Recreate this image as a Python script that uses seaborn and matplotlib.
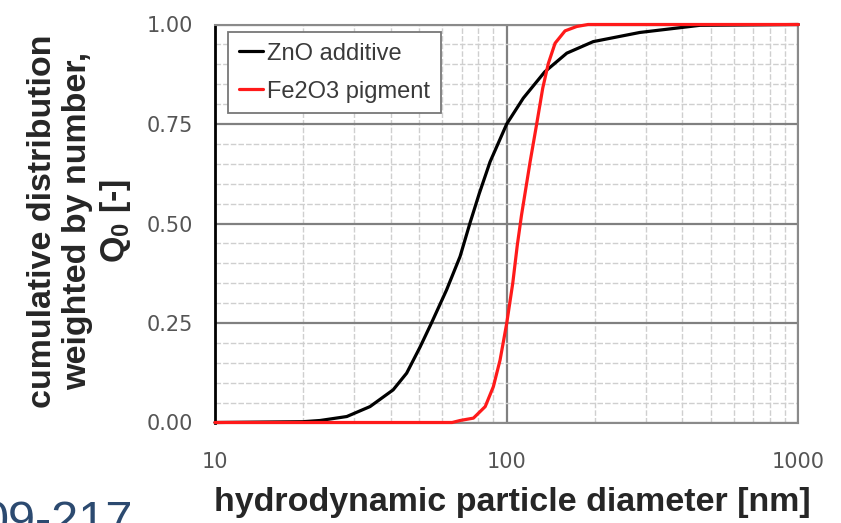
import numpy as np
import pandas as pd
import matplotlib
matplotlib.use("Agg")
import matplotlib.pyplot as plt
import seaborn as sns
from matplotlib.ticker import FixedLocator, NullFormatter, FixedFormatter

# ---- data ----
zno_d = [10, 20, 22.9, 28.3, 34.0, 40.8, 45.4, 50.5, 55.3, 62.2, 69.2, 74.9, 80.5,
         87.7, 100, 114, 135, 160.7, 198, 286, 393, 460, 1000]
zno_q = [0.0, 0.002, 0.005, 0.015, 0.040, 0.082, 0.124, 0.190, 0.251, 0.333, 0.417,
         0.502, 0.575, 0.655, 0.750, 0.815, 0.881, 0.928, 0.957, 0.980, 0.992, 0.998, 1.0]
fe_d = [10, 65, 69.2, 76.9, 84.4, 90.0, 94.9, 100, 104.9, 108.7, 112.4, 120.3, 126.7,
        132.9, 138.9, 146.5, 158.5, 173.8, 190, 1000]
fe_q = [0.0, 0.0, 0.005, 0.011, 0.040, 0.090, 0.157, 0.249, 0.350, 0.445, 0.521, 0.655,
        0.750, 0.840, 0.902, 0.953, 0.984, 0.995, 1.0, 1.0]
series_names = ["ZnO additive", "Fe2O3 pigment"]
series_colors = ["black", "#ff1a1a"]
y_ticks = [0.0, 0.25, 0.5, 0.75, 1.0]
y_tick_labels = ["0.00", "0.25", "0.50", "0.75", "1.00"]
x_ticks = [10, 100, 1000]
x_tick_labels = ["10", "100", "1000"]

df = pd.concat([
    pd.DataFrame({"d": zno_d, "q": zno_q, "series": series_names[0]}),
    pd.DataFrame({"d": fe_d, "q": fe_q, "series": series_names[1]}),
], ignore_index=True)

sns.set_style("white")
plt.rcParams["font.family"] = ["Liberation Sans", "DejaVu Sans"]
plt.rcParams["mathtext.fontset"] = "custom"
plt.rcParams["mathtext.rm"] = "Liberation Sans"
plt.rcParams["mathtext.bf"] = "Liberation Sans:bold"
plt.rcParams["mathtext.default"] = "bf"

W, H = 841, 523
fig = plt.figure(figsize=(W / 100, H / 100), dpi=100)
x0, x1, y0, y1 = 215, 798.4, 24.5, 422.5
ax = fig.add_axes([x0 / W, 1 - y1 / H, (x1 - x0) / W, (y1 - y0) / H])

sns.lineplot(data=df, x="d", y="q", hue="series", hue_order=series_names,
             palette=dict(zip(series_names, series_colors)), sort=False,
             estimator=None, linewidth=2.3, ax=ax, clip_on=False, zorder=5)

ax.set_xscale("log")
ax.set_xlim(10, 1000)
ax.set_ylim(0, 1)

# ticks
ax.xaxis.set_major_locator(FixedLocator(x_ticks))
ax.xaxis.set_major_formatter(FixedFormatter(x_tick_labels))
ax.xaxis.set_minor_locator(FixedLocator([m * 10 ** e for e in (1, 2) for m in range(2, 10)]))
ax.xaxis.set_minor_formatter(NullFormatter())
ax.yaxis.set_major_locator(FixedLocator(y_ticks))
ax.yaxis.set_major_formatter(FixedFormatter(y_tick_labels))
ax.yaxis.set_minor_locator(FixedLocator(np.arange(0.05, 1.0, 0.05)))

ax.tick_params(axis="both", which="both", direction="in", color="#777777")
ax.tick_params(axis="both", which="minor", length=4, width=1)
ax.tick_params(axis="both", which="major", length=0)
ax.tick_params(axis="x", which="major", pad=21, labelsize=15, labelcolor="#555555")
ax.tick_params(axis="y", which="major", pad=16, labelsize=15, labelcolor="#555555")
for lab in ax.get_xticklabels() + ax.get_yticklabels():
    lab.set_family("DejaVu Sans")

# grid
ax.grid(which="minor", color="#cfcfcf", linewidth=1.0, linestyle=(0, (4, 1.5)))
ax.grid(which="major", color="#808080", linewidth=1.6, linestyle="-")
ax.set_axisbelow(True)

for side in ("top", "right", "bottom"):
    ax.spines[side].set_color("#8a8a8a")
    ax.spines[side].set_linewidth(1.5)
    ax.spines[side].set_visible(True)
ax.spines["left"].set_color("black")
ax.spines["left"].set_linewidth(2)

ax.set_xlabel("")
ax.set_ylabel("")

# legend
leg = ax.legend(loc="upper left", bbox_to_anchor=((228 - x0) / (x1 - x0), (y1 - 32) / (y1 - y0)),
                borderaxespad=0, frameon=True, fancybox=False, fontsize=17,
                handlelength=1.05, handletextpad=0.15, labelspacing=0.68,
                borderpad=0.45, title=None)
leg.get_frame().set_edgecolor("#777777")
leg.get_frame().set_linewidth(1.3)
leg.get_frame().set_facecolor("white")
leg.get_frame().set_alpha(1)
for t in leg.get_texts():
    t.set_color("#3a3a3a")
for l in leg.get_lines():
    l.set_linewidth(2.3)

# axis labels
fig.text(80 / W, 1 - 221 / H,
         "cumulative distribution\nweighted by number,\nQ$_0$ [-]",
         rotation=90, ha="center", va="center", multialignment="center",
         fontsize=24.5, fontweight="bold", linespacing=1.18)
fig.text(512 / W, 1 - 511 / H, "hydrodynamic particle diameter [nm]",
         ha="center", va="baseline", fontsize=24.5, fontweight="bold")

# clipped page-number fragment at bottom left
fig.text(133 / W, -12 / H, "09-217", ha="right", va="baseline",
         fontsize=35, color="#2c4a70")

fig.savefig("out.png", dpi=100)
